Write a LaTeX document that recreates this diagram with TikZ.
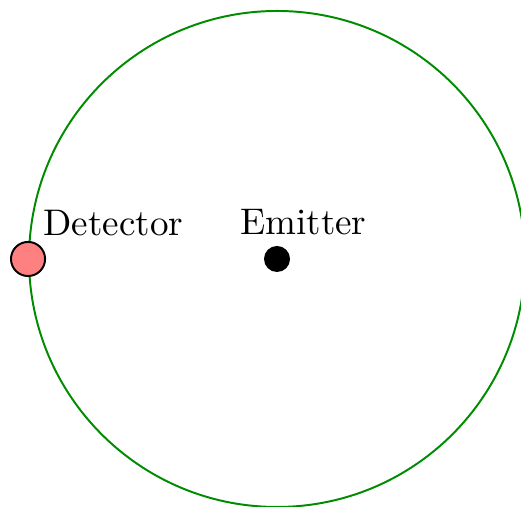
\documentclass[tikz,border=0pt]{standalone}
\begin{document}
\begin{tikzpicture}[
  every label/.style={scale=1.7, inner sep=0pt},
  ring/.style={draw=green!55!black, line width=0.9pt},
  dot/.style={circle, inner sep=0pt}
]
  \useasboundingbox (-4.468,-4.0) rectangle (3.935,4.177);

  % Detection ring
  \node[ring, circle, minimum size=8cm, inner sep=0pt] (ring) at (0,0) {};

  % Emitter in the centre
  \node[dot, fill=black, minimum size=0.42cm,
    label={[anchor=base, xshift=0.25cm, yshift=0.1cm]above:Emitter}]
    (emitter) at (ring.center) {};

  % Detector on the ring
  \node[dot, draw=black, line width=0.9pt, fill=red!50, minimum size=0.55cm,
    label={[anchor=base west, xshift=0.02cm, yshift=0.1cm]above right:Detector}]
    (detector) at (ring.west) {};
\end{tikzpicture}
\end{document}
